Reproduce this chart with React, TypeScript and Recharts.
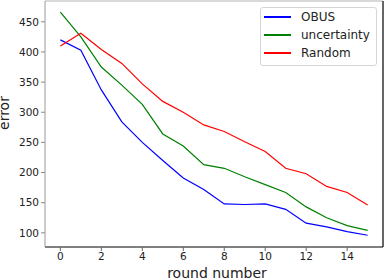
import React from 'react';
import { LineChart, Line, XAxis, YAxis, ReferenceLine } from 'recharts';

const rounds = [0, 1, 2, 3, 4, 5, 6, 7, 8, 9, 10, 11, 12, 13, 14, 15];
const obus = [420, 403, 337, 284, 250, 220, 191, 172, 148, 147, 148, 139, 116, 110, 102, 96];
const uncertainty = [466, 425, 375, 345, 313, 264, 244, 213, 207, 193, 180, 167, 143, 125, 112, 104];
const random = [410, 431, 404, 381, 347, 318, 300, 279, 268, 251, 235, 207, 198, 177, 167, 146];
const xTicks = [0, 2, 4, 6, 8, 10, 12, 14];
const yTicks = [100, 150, 200, 250, 300, 350, 400, 450];
const xDomain = [-0.75, 15.75];
const yDomain = [76.5, 484.5];

const series = [
  { key: 'OBUS', color: '#0000ff' },
  { key: 'uncertainty', color: '#008000' },
  { key: 'Random', color: '#ff0000' },
];

const data = rounds.map((r, i) => ({
  round: r,
  OBUS: obus[i],
  uncertainty: uncertainty[i],
  Random: random[i],
}));

const font = 'DejaVu Sans, sans-serif';

function LegendBox() {
  return (
    <div
      style={{
        position: 'absolute',
        left: 260,
        top: 7,
        width: 115,
        height: 57,
        border: '1px solid #d6d6d6',
        borderRadius: 3,
        background: '#fff',
        fontFamily: font,
        fontSize: 12,
        color: '#222',
      }}
    >
      {series.map(s => (
        <div key={s.key} style={{ display: 'flex', alignItems: 'center', height: 18 }}>
          <div style={{ width: 27, height: 2, background: s.color, marginLeft: 3, marginRight: 10 }} />
          <span>{s.key}</span>
        </div>
      ))}
    </div>
  );
}

export default function App() {
  return (
    <div style={{ position: 'absolute', left: 0, top: 0, width: 384, height: 280, background: '#fff' }}>
      <LineChart width={384} height={280} data={data} margin={{ top: 1, right: 1, left: 0, bottom: 0 }}>
        <XAxis
          dataKey="round"
          type="number"
          domain={xDomain}
          ticks={xTicks}
          height={33}
          tickSize={4}
          tickLine={{ stroke: '#666' }}
          axisLine={{ stroke: '#000', strokeWidth: 1.2 }}
          tick={{ fill: '#222', fontSize: 10.5, fontFamily: font }}
          label={({ viewBox }: any) => (
            <text x={viewBox.x + viewBox.width / 2 + 3} y={278} textAnchor="middle" fill="#222" fontSize={14} fontFamily={font}>
              round number
            </text>
          )}
        />
        <YAxis
          domain={yDomain}
          ticks={yTicks}
          width={45}
          tickSize={4}
          tickLine={{ stroke: '#888' }}
          axisLine={{ stroke: '#999' }}
          tick={{ fill: '#222', fontSize: 10.5, fontFamily: font }}
          label={() => (
            <text x={9} y={113} transform="rotate(-90, 9, 113)" textAnchor="middle" fill="#222" fontSize={14} fontFamily={font}>
              error
            </text>
          )}
        />
        <ReferenceLine y={yDomain[1]} stroke="#cccccc" strokeWidth={1.5} />
        <ReferenceLine x={xDomain[1]} stroke="#333333" strokeWidth={1.5} />
        {series.map(s => (
          <Line
            key={s.key}
            dataKey={s.key}
            stroke={s.color}
            strokeWidth={1.2}
            dot={false}
            activeDot={false}
            isAnimationActive={false}
          />
        ))}
      </LineChart>
      <LegendBox />
    </div>
  );
}
